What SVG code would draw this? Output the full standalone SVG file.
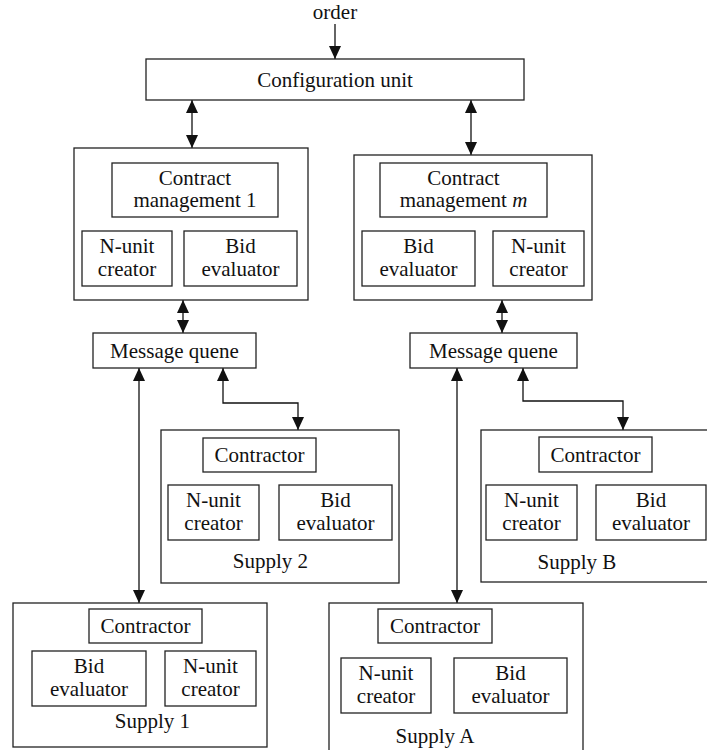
<svg xmlns="http://www.w3.org/2000/svg" width="707" height="750" viewBox="0 0 707 750">
<style>
rect{fill:#fff;stroke:#222;stroke-width:1.3}
text{font-family:"Liberation Serif","Times New Roman",serif;font-size:21px;fill:#111;text-anchor:middle}
.c{fill:none;stroke:#111;stroke-width:1.3;marker-end:url(#ah)}
.d{marker-start:url(#ah)}
</style>
<defs>
<marker id="ah" viewBox="0 0 13 12" refX="13" refY="6" markerWidth="13" markerHeight="12" markerUnits="userSpaceOnUse" orient="auto-start-reverse">
<path d="M0,0 L13,6 L0,12 z" fill="#111"/>
</marker>
</defs>
<rect x="0" y="0" width="707" height="750" style="fill:#fff;stroke:none"/>
<g id="connectors">
<path class="c" d="M335,24 V59"/>
<path class="c d" d="M192,100 V148"/>
<path class="c d" d="M471,100 V155"/>
<path class="c d" d="M183,300 V333"/>
<path class="c d" d="M502,300 V333"/>
<path class="c d" d="M139,368 V603"/>
<path class="c d" d="M223,368 V403 H298 V430"/>
<path class="c d" d="M457,368 V603"/>
<path class="c d" d="M523,368 V401 H623 V430"/>
</g>
<text x="335" y="19">order</text>
<g id="config">
<rect x="146" y="59" width="378" height="41"/>
<text x="335" y="87">Configuration unit</text>
</g>
<g id="cm1">
<rect x="74" y="148" width="234" height="152"/>
<rect x="112" y="163" width="166" height="54"/>
<text x="195" y="185">Contract</text>
<text x="195" y="207">management 1</text>
<rect x="82" y="231" width="90" height="55"/>
<text x="127" y="253">N-unit</text>
<text x="127" y="276">creator</text>
<rect x="184" y="231" width="113" height="55"/>
<text x="240.5" y="253">Bid</text>
<text x="240.5" y="276">evaluator</text>
</g>
<g id="cmm">
<rect x="354" y="155" width="238" height="145"/>
<rect x="380" y="163" width="167" height="54"/>
<text x="463.5" y="185">Contract</text>
<text x="463.5" y="207">management <tspan font-style="italic">m</tspan></text>
<rect x="362" y="231" width="113" height="55"/>
<text x="418.5" y="253">Bid</text>
<text x="418.5" y="276">evaluator</text>
<rect x="493" y="231" width="91" height="55"/>
<text x="538.5" y="253">N-unit</text>
<text x="538.5" y="276">creator</text>
</g>
<g id="mq1">
<rect x="93" y="333" width="163" height="35"/>
<text x="174.5" y="358">Message quene</text>
</g>
<g id="mq2">
<rect x="410" y="333" width="167" height="35"/>
<text x="493.5" y="358">Message quene</text>
</g>
<g id="supply2">
<rect x="161" y="430" width="238" height="153"/>
<rect x="203" y="438" width="113" height="34"/>
<text x="259.5" y="462">Contractor</text>
<rect x="168" y="485" width="91" height="55"/>
<text x="213.5" y="507">N-unit</text>
<text x="213.5" y="530">creator</text>
<rect x="279" y="485" width="113" height="55"/>
<text x="335.5" y="507">Bid</text>
<text x="335.5" y="530">evaluator</text>
<text x="270.5" y="568">Supply 2</text>
</g>
<g id="supplyB">
<rect x="481" y="430" width="232" height="152"/>
<rect x="539" y="437" width="113" height="35"/>
<text x="595.5" y="462">Contractor</text>
<rect x="486" y="485" width="91" height="55"/>
<text x="531.5" y="507">N-unit</text>
<text x="531.5" y="530">creator</text>
<rect x="596" y="485" width="110" height="55"/>
<text x="651" y="507">Bid</text>
<text x="651" y="530">evaluator</text>
<text x="577" y="569">Supply B</text>
</g>
<g id="supply1">
<rect x="13" y="603" width="254" height="144"/>
<rect x="89" y="609" width="113" height="34"/>
<text x="145.5" y="633">Contractor</text>
<rect x="32" y="651" width="114" height="55"/>
<text x="89" y="673">Bid</text>
<text x="89" y="696">evaluator</text>
<rect x="165" y="651" width="91" height="55"/>
<text x="210.5" y="673">N-unit</text>
<text x="210.5" y="696">creator</text>
<text x="152.5" y="728">Supply 1</text>
</g>
<g id="supplyA">
<rect x="329" y="603" width="254" height="160"/>
<rect x="378" y="609" width="114" height="34"/>
<text x="435" y="633">Contractor</text>
<rect x="341" y="658" width="90" height="55"/>
<text x="386" y="680">N-unit</text>
<text x="386" y="703">creator</text>
<rect x="454" y="658" width="113" height="55"/>
<text x="510.5" y="680">Bid</text>
<text x="510.5" y="703">evaluator</text>
<text x="435" y="743">Supply A</text>
</g>
</svg>
